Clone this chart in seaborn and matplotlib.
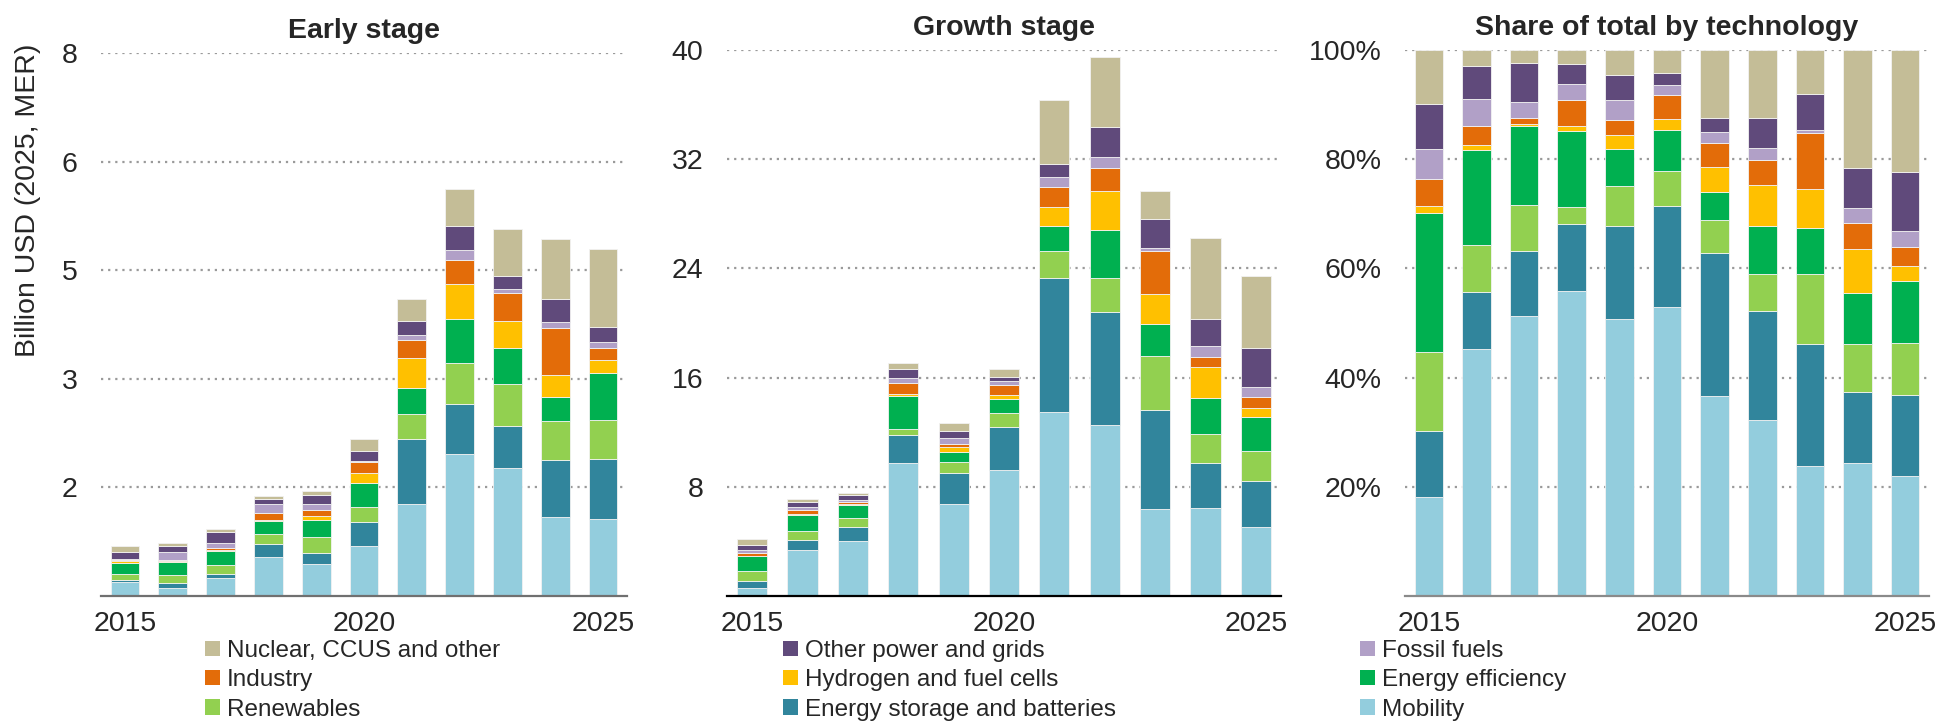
import pandas as pd
import matplotlib.pyplot as plt
import matplotlib.ticker as mticker
from matplotlib.patches import Patch
import seaborn as sns

# ─── Visual setup ────────────────────────────────────────────
sns.set_theme(style="white")
plt.rcParams["font.family"] = ["Liberation Sans", "DejaVu Sans"]

YEARS = list(range(2015, 2026))

# technologies, bottom of the stack first
TECHS = [
    "Mobility",
    "Energy storage and batteries",
    "Renewables",
    "Energy efficiency",
    "Hydrogen and fuel cells",
    "Industry",
    "Fossil fuels",
    "Other power and grids",
    "Nuclear, CCUS and other",
]
COLORS = {
    "Mobility":                     "#93CDDD",
    "Energy storage and batteries": "#31859C",
    "Renewables":                   "#92D050",
    "Energy efficiency":            "#00B050",
    "Hydrogen and fuel cells":      "#FFC000",
    "Industry":                     "#E36C09",
    "Fossil fuels":                 "#B1A0C7",
    "Other power and grids":        "#604A7B",
    "Nuclear, CCUS and other":      "#C4BD97",
}

# ─── Early stage (billion USD) ───────────────────────────────
early_mobility   = [0.20, 0.12, 0.27, 0.58, 0.47, 0.73, 1.36, 2.09, 1.88, 1.17, 1.13]
early_storage    = [0.04, 0.07, 0.06, 0.19, 0.16, 0.36, 0.95, 0.74, 0.63, 0.83, 0.89]
early_renewables = [0.09, 0.12, 0.12, 0.14, 0.24, 0.22, 0.37, 0.60, 0.62, 0.58, 0.58]
early_efficiency = [0.16, 0.19, 0.22, 0.19, 0.25, 0.35, 0.39, 0.65, 0.53, 0.35, 0.68]
early_hydrogen   = [0.02, 0.02, 0.01, 0.02, 0.06, 0.15, 0.43, 0.51, 0.39, 0.33, 0.19]
early_industry   = [0.02, 0.01, 0.02, 0.11, 0.08, 0.16, 0.27, 0.36, 0.42, 0.69, 0.19]
early_fossil     = [0.02, 0.12, 0.08, 0.12, 0.10, 0.02, 0.07, 0.15, 0.05, 0.09, 0.08]
early_otherpower = [0.10, 0.08, 0.17, 0.08, 0.13, 0.14, 0.21, 0.35, 0.20, 0.34, 0.23]
early_nuclear    = [0.08, 0.05, 0.03, 0.05, 0.05, 0.19, 0.32, 0.54, 0.69, 0.88, 1.14]

# ─── Growth stage (billion USD) ──────────────────────────────
growth_mobility   = [0.58, 3.40, 4.06, 9.72, 6.73, 9.26, 13.50, 12.54, 6.39, 6.44, 5.02]
growth_storage    = [0.52, 0.73, 0.96, 2.09, 2.26, 3.13, 9.78, 8.30, 7.26, 3.28, 3.40]
growth_renewables = [0.70, 0.61, 0.70, 0.46, 0.81, 1.04, 2.03, 2.47, 3.92, 2.18, 2.18]
growth_efficiency = [1.10, 1.22, 0.96, 2.38, 0.73, 0.99, 1.77, 3.48, 2.38, 2.61, 2.55]
growth_hydrogen   = [0.06, 0.06, 0.09, 0.15, 0.35, 0.29, 1.45, 2.87, 2.21, 2.24, 0.64]
growth_industry   = [0.20, 0.29, 0.12, 0.78, 0.23, 0.73, 1.45, 1.68, 3.11, 0.75, 0.78]
growth_fossil     = [0.23, 0.23, 0.17, 0.38, 0.44, 0.29, 0.75, 0.84, 0.20, 0.78, 0.73]
growth_otherpower = [0.32, 0.38, 0.35, 0.64, 0.55, 0.29, 0.90, 2.21, 2.12, 2.03, 2.90]
growth_nuclear    = [0.49, 0.20, 0.15, 0.44, 0.58, 0.61, 4.70, 5.08, 2.09, 5.89, 5.25]

# ─── Share of total (%) ──────────────────────────────────────
share_mobility   = [18.1, 45.2, 51.3, 55.9, 50.8, 53.0, 36.7, 32.2, 23.8, 24.4, 22.0]
share_storage    = [12.2, 10.4, 11.9, 12.2, 17.0, 18.4, 26.2, 20.0, 22.3, 13.0, 14.9]
share_renewables = [14.3, 8.6, 8.5, 3.1, 7.2, 6.5, 5.9, 6.8, 12.9, 8.7, 9.5]
share_efficiency = [25.6, 17.4, 14.4, 13.9, 6.9, 7.4, 5.2, 8.8, 8.4, 9.4, 11.3]
share_hydrogen   = [1.3, 1.0, 0.4, 1.0, 2.6, 2.0, 4.6, 7.5, 7.2, 8.1, 2.8]
share_industry   = [4.9, 3.5, 1.1, 4.7, 2.6, 4.5, 4.3, 4.5, 10.2, 4.7, 3.4]
share_fossil     = [5.4, 4.9, 2.9, 2.9, 3.7, 1.7, 2.0, 2.2, 0.6, 2.8, 2.9]
share_otherpower = [8.3, 6.0, 7.2, 3.7, 4.7, 2.3, 2.7, 5.6, 6.6, 7.3, 10.9]
share_nuclear    = [9.9, 3.0, 2.3, 2.6, 4.5, 4.2, 12.4, 12.4, 8.0, 21.6, 22.3]

EARLY = [early_mobility, early_storage, early_renewables, early_efficiency,
         early_hydrogen, early_industry, early_fossil, early_otherpower, early_nuclear]
GROWTH = [growth_mobility, growth_storage, growth_renewables, growth_efficiency,
          growth_hydrogen, growth_industry, growth_fossil, growth_otherpower, growth_nuclear]
SHARE = [share_mobility, share_storage, share_renewables, share_efficiency,
         share_hydrogen, share_industry, share_fossil, share_otherpower, share_nuclear]


def to_long(series):
    rows = []
    for tech, vals in zip(TECHS, series):
        for y, v in zip(YEARS, vals):
            rows.append({"year": y, "tech": tech, "value": v})
    return pd.DataFrame(rows)


FS = 20.5
GRID = "#9a9a9a"


def draw_panel(ax, series, multiple, title, ymax, yticks, fmt, spine_color):
    df = to_long(series)
    # seaborn stacks the last hue level at the bottom
    sns.histplot(data=df, x="year", weights="value", hue="tech",
                 hue_order=TECHS[::-1], palette=COLORS, multiple=multiple,
                 discrete=True, shrink=0.6, alpha=1, edgecolor="#f2f2f2",
                 linewidth=0.6, legend=False, ax=ax)
    ax.set_xlim(2014.5, 2025.5)
    ax.set_ylim(0, ymax)
    ax.set_xticks([2015, 2020, 2025])
    ax.set_yticks(yticks)
    ax.yaxis.set_major_formatter(mticker.FuncFormatter(fmt))
    ax.tick_params(axis="both", length=0, labelsize=FS)
    ax.tick_params(axis="y", pad=17)
    ax.tick_params(axis="x", pad=11)
    ax.set_xlabel("")
    ax.set_ylabel("")
    ax.set_axisbelow(True)
    ax.yaxis.grid(True, color=GRID, linestyle=(0, (1, 2.2)), linewidth=1.6)
    for s in ["top", "right", "left"]:
        ax.spines[s].set_visible(False)
    ax.spines["bottom"].set_color(spine_color)
    ax.spines["bottom"].set_linewidth(1.6)
    ax.set_title(title, fontsize=FS, fontweight="bold", pad=11)


W, H = 1937, 726
fig = plt.figure(figsize=(W / 100, H / 100), dpi=100)

ax1 = fig.add_axes([101 / W, (H - 596) / H, 526 / W, 543 / H])
ax2 = fig.add_axes([727 / W, (H - 596) / H, 554 / W, 546 / H])
ax3 = fig.add_axes([1405 / W, (H - 596) / H, 524 / W, 546 / H])

draw_panel(ax1, EARLY, "stack", "Early stage", 8.0,
           [1.6, 3.2, 4.8, 6.4, 8.0], lambda v, _: f"{v:.0f}", "#707070")
draw_panel(ax2, GROWTH, "stack", "Growth stage", 40,
           [8, 16, 24, 32, 40], lambda v, _: f"{v:.0f}", "#000000")
draw_panel(ax3, SHARE, "fill", "Share of total by technology", 1.0,
           [0.2, 0.4, 0.6, 0.8, 1.0], lambda v, _: f"{v * 100:.0f}%", "#8a8a8a")

fig.text(28 / W, (H - 200) / H, "Billion USD (2025, MER)", rotation=90,
         ha="center", va="center", fontsize=FS)

# ─── Legend: three columns, one under each panel ─────────────
legend_cols = [
    (["Nuclear, CCUS and other", "Industry", "Renewables"], 205),
    (["Other power and grids", "Hydrogen and fuel cells", "Energy storage and batteries"], 783),
    (["Fossil fuels", "Energy efficiency", "Mobility"], 1360),
]
for names, x in legend_cols:
    handles = [Patch(facecolor=COLORS[n], edgecolor="none", label=n) for n in names]
    fig.legend(handles=handles, loc="upper left", bbox_to_anchor=(x / W, (H - 640) / H),
               frameon=False, fontsize=17.5, handlelength=0.6, handleheight=0.6,
               handletextpad=0.3, labelspacing=0.3, borderpad=0, borderaxespad=0)

fig.savefig("out.png", dpi=100)
plt.close(fig)
